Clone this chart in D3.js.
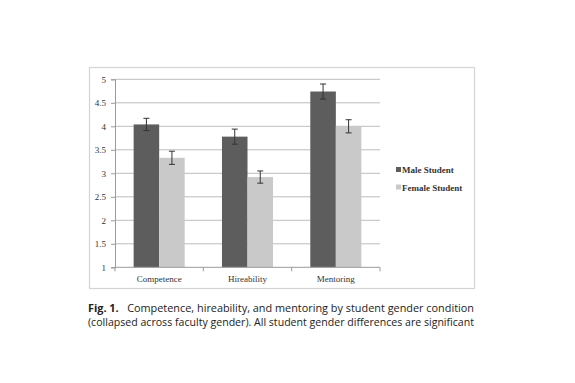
<!DOCTYPE html>
<html>
<head>
<meta charset="utf-8">
<script src="https://cdn.jsdelivr.net/npm/d3@7/dist/d3.min.js"></script>
<style>
  body { margin: 0; background: #fff; }
  svg { display: block; }
</style>
</head>
<body>
<script>
// Chart data
var categories = ["Competence", "Hireability", "Mentoring"];
var seriesNames = ["Male Student", "Female Student"];
var maleValues = [4.04, 3.78, 4.74];
var maleErrors = [0.13, 0.16, 0.16];
var femaleValues = [3.33, 2.92, 4.00];
var femaleErrors = [0.14, 0.13, 0.14];
var yTicks = [1, 1.5, 2, 2.5, 3, 3.5, 4, 4.5, 5];

var colors = ["#5d5d5d", "#c9c9c9"];
var serif = "'Liberation Serif', 'DejaVu Serif', serif";

var svg = d3.select("body")
            .append("svg")
            .attr("width", 575)
            .attr("height", 383);

// Outer frame of the embedded chart
svg.append("rect")
    .attr("x", 89.5).attr("y", 67.5)
    .attr("width", 385).attr("height", 221)
    .attr("fill", "#fff")
    .attr("stroke", "#d4d4d4")
    .attr("stroke-width", 1.2);

// Plot area
var plot = {left: 115, right: 380, top: 79.3, bottom: 267.3};

var x = d3.scaleBand()
    .domain(categories)
    .range([plot.left, plot.right]);

var x1 = d3.scaleBand()
    .domain(seriesNames)
    .range([0, x.bandwidth()])
    .paddingInner(0)
    .paddingOuter(0.73);

var y = d3.scaleLinear()
    .domain([1, 5])
    .range([plot.bottom, plot.top]);

// Gridlines
svg.append("g")
    .selectAll("line")
    .data(yTicks.slice(1))
    .enter().append("line")
    .attr("x1", plot.left).attr("x2", plot.right)
    .attr("y1", function(d) { return y(d); })
    .attr("y2", function(d) { return y(d); })
    .attr("stroke", "#bdbdbd")
    .attr("stroke-width", 1);

// Bars
var rows = categories.map(function(c, i) {
    return [
        {cat: c, s: seriesNames[0], v: maleValues[i], e: maleErrors[i], k: 0},
        {cat: c, s: seriesNames[1], v: femaleValues[i], e: femaleErrors[i], k: 1}
    ];
});
var flat = [].concat.apply([], rows);

svg.append("g")
    .selectAll("rect")
    .data(flat)
    .enter().append("rect")
    .attr("x", function(d) { return x(d.cat) + x1(d.s); })
    .attr("width", x1.bandwidth())
    .attr("y", function(d) { return y(d.v); })
    .attr("height", function(d) { return y(1) - y(d.v); })
    .attr("fill", function(d) { return colors[d.k]; });

// Error bars
var eb = svg.append("g")
    .attr("stroke", "#333")
    .attr("stroke-width", 1);

flat.forEach(function(d) {
    var cx = x(d.cat) + x1(d.s) + x1.bandwidth() / 2;
    eb.append("line")
        .attr("x1", cx).attr("x2", cx)
        .attr("y1", y(d.v + d.e)).attr("y2", y(d.v - d.e));
    eb.append("line")
        .attr("x1", cx - 3).attr("x2", cx + 3)
        .attr("y1", y(d.v + d.e)).attr("y2", y(d.v + d.e));
    eb.append("line")
        .attr("x1", cx - 3).attr("x2", cx + 3)
        .attr("y1", y(d.v - d.e)).attr("y2", y(d.v - d.e));
});

// Y axis
var yAxis = svg.append("g")
    .attr("transform", "translate(" + plot.left + ",0)")
    .call(d3.axisLeft(y).tickValues(yTicks).tickSize(4).tickPadding(5)
          .tickFormat(function(d) { return String(d); }));
yAxis.selectAll("line, path").attr("stroke", "#9a9a9a");
yAxis.selectAll("text")
    .attr("font-family", serif)
    .attr("font-size", 9)
    .attr("fill", "#333");

// X axis
var xAxis = svg.append("g")
    .attr("transform", "translate(0," + plot.bottom + ")");
xAxis.append("line")
    .attr("x1", plot.left).attr("x2", plot.right)
    .attr("stroke", "#9a9a9a");
xAxis.selectAll("line.tick")
    .data(categories.concat(["end"]))
    .enter().append("line")
    .attr("class", "tick")
    .attr("x1", function(d, i) { return i < categories.length ? x(d) : plot.right; })
    .attr("x2", function(d, i) { return i < categories.length ? x(d) : plot.right; })
    .attr("y1", 0).attr("y2", 4)
    .attr("stroke", "#9a9a9a");
xAxis.selectAll("text")
    .data(categories)
    .enter().append("text")
    .attr("x", function(d) { return x(d) + x.bandwidth() / 2; })
    .attr("y", 15)
    .attr("text-anchor", "middle")
    .attr("font-family", serif)
    .attr("font-size", 9)
    .attr("fill", "#333")
    .text(function(d) { return d; });

// Legend
var legend = svg.append("g")
    .attr("transform", "translate(396,170)");
seriesNames.forEach(function(s, i) {
    var row = legend.append("g").attr("transform", "translate(0," + (i * 17.5) + ")");
    row.append("rect")
        .attr("x", 0).attr("y", -3)
        .attr("width", 5).attr("height", 5)
        .attr("fill", colors[i]);
    row.append("text")
        .attr("x", 6).attr("y", 3)
        .attr("font-family", serif)
        .attr("font-size", 9)
        .attr("font-weight", "bold")
        .attr("fill", "#333")
        .text(s);
});

// Caption
var cap = svg.append("g")
    .attr("font-family", "'Open Sans', 'Liberation Sans', sans-serif")
    .attr("font-size", 11)
    .attr("fill", "#222");
var line1 = cap.append("text")
    .attr("x", 88).attr("y", 312)
    .attr("textLength", 386)
    .attr("lengthAdjust", "spacingAndGlyphs");
line1.append("tspan").attr("font-weight", "bold").text("Fig. 1.");
line1.append("tspan").text("\u00a0\u00a0\u00a0Competence, hireability, and mentoring by student gender condition");
cap.append("text")
    .attr("x", 88).attr("y", 326)
    .attr("textLength", 386)
    .attr("lengthAdjust", "spacingAndGlyphs")
    .text("(collapsed across faculty gender). All student gender differences are significant");
</script>
</body>
</html>
